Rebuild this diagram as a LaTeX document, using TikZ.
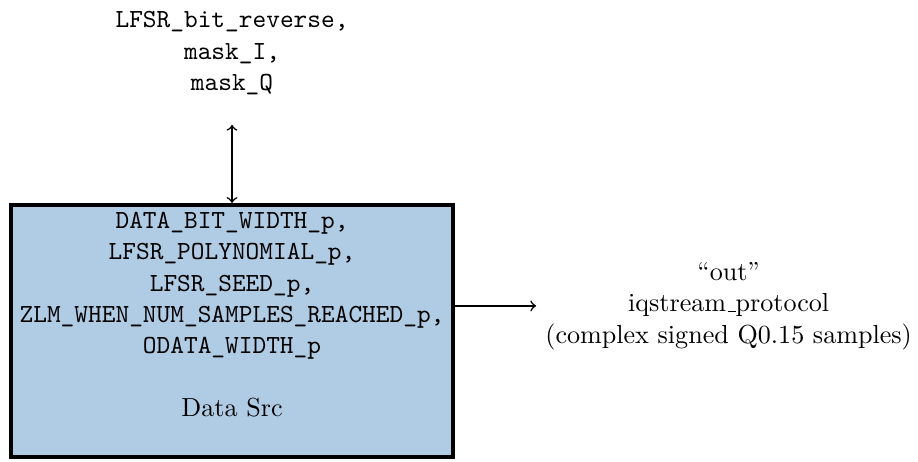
\documentclass[tikz,border=0pt]{standalone}
\usepackage{tikz}
\usetikzlibrary{arrows,positioning}
\usepackage{xcolor}
\definecolor{srcblue}{RGB}{176,203,228}
\newcommand{\lowrule}{\leavevmode\kern.06em\vbox{\hrule width.3em}}
\tikzstyle{block} = [draw, ultra thick, fill=srcblue, minimum width=169.4pt, minimum height=96.5pt]
\tikzstyle{blocktext} = [align=center, font=\ttfamily]
\tikzstyle{arrow} = [semithick,->]

\begin{document}
\begin{tikzpicture}
\useasboundingbox (-88.9pt,-50.2pt) rectangle (262.8pt,126.8pt);

% Data source block
\node[block] (src) at (0,0) {};
\node[blocktext, anchor=north] (srcparams) at (src.north) {DATA\_BIT\_WIDTH\_p,\\
LFSR\_POLYNOMIAL\_p,\\
LFSR\_SEED\_p,\\
ZLM\_WHEN\_NUM\_SAMPLES\_REACHED\_p,\\
ODATA\_WIDTH\_p\\[12pt]
\rmfamily Data Src};

% Register interface
\coordinate[above=29.9pt of src.north] (regend);
\node[blocktext, above=8pt of regend] (regs) {LFSR\_bit\_reverse,\\
mask\_I,\\
mask\_Q};
\draw[semithick,<->] (src.north) -- (regend);

% Output stream
\node[align=center, right=31pt of src.east, yshift=9.6pt] (out) {``out''\\
iqstream\lowrule protocol\\
(complex signed Q0.15 samples)};
\draw[arrow] (src.east |- out.west) -- (out.west);
\end{tikzpicture}
\end{document}
